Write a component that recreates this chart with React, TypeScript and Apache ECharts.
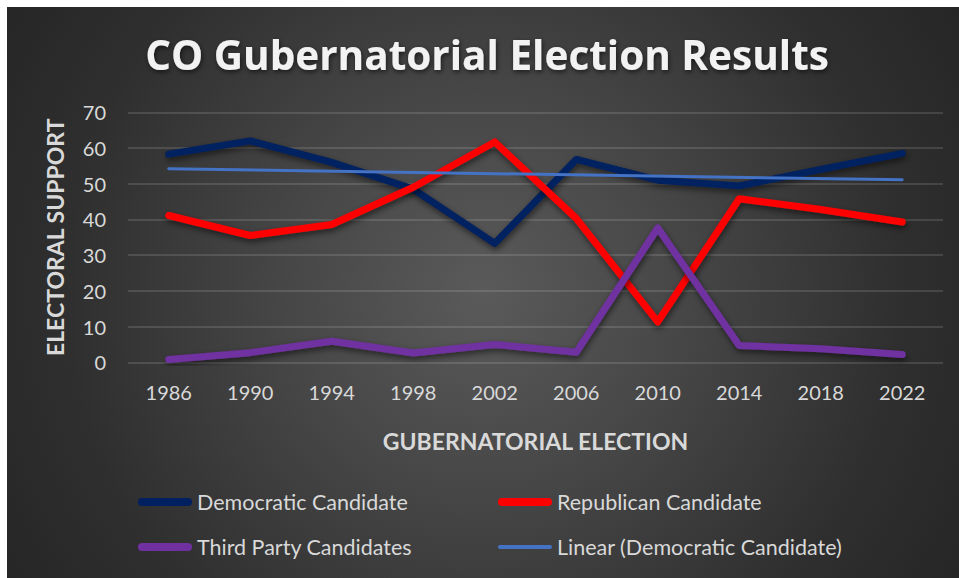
import React, { useEffect, useRef } from "react";
import * as echarts from "echarts";

const years = ["1986", "1990", "1994", "1998", "2002", "2006", "2010", "2014", "2018", "2022"];
const democratic = [58.3, 62.0, 56.0, 48.5, 33.3, 56.8, 51.0, 49.4, 54.0, 58.5];
const republican = [41.1, 35.5, 38.6, 49.0, 61.7, 40.3, 11.3, 45.8, 42.8, 39.3];
const thirdParty = [0.8, 2.7, 5.9, 2.6, 5.0, 2.8, 37.6, 4.7, 3.8, 2.2];
// Linear trend line of the Democratic series: endpoints
const trendStart = 54.2;
const trendEnd = 51.1;
const yTicks = [0, 10, 20, 30, 40, 50, 60, 70];

const FONT = "Lato, 'Open Sans', sans-serif";
const TXT = "#d9d9d9";

export default function App() {
  const ref = useRef<HTMLDivElement>(null);
  useEffect(() => {
    if (!ref.current) return;
    const chart = echarts.init(ref.current, null, { renderer: "svg" });
    const trend = years.map((_, i) => (i === 0 ? trendStart : i === years.length - 1 ? trendEnd : null));
    const shadow = {
      shadowColor: "rgba(0,0,0,0.55)",
      shadowBlur: 6,
      shadowOffsetX: 1,
      shadowOffsetY: 3,
    };
    const legendBase = (name: string, left: number, top: number, h: number) => ({
      data: [name],
      left,
      top,
      itemWidth: 54,
      itemHeight: h,
      itemGap: 0,
      icon: `path://M${h / 2},0 L${54 - h / 2},0 A${h / 2},${h / 2} 0 0 1 ${54 - h / 2},${h} L${h / 2},${h} A${h / 2},${h / 2} 0 0 1 ${h / 2},0 Z`,
      textStyle: { color: TXT, fontSize: 21.5, fontFamily: FONT },
      selectedMode: false,
    });
    chart.setOption({
      animation: false,
      title: {
        text: "CO Gubernatorial Election Results",
        left: 475,
        textAlign: "center",
        top: 22,
        textStyle: {
          color: "#f2f2f2",
          fontSize: 40.5,
          fontWeight: "bold",
          fontFamily: "'Open Sans', Lato, sans-serif",
          textShadowColor: "rgba(0,0,0,0.6)",
          textShadowBlur: 5,
          textShadowOffsetX: 1,
          textShadowOffsetY: 2,
        },
      },
      legend: [
        legendBase("Democratic Candidate", 126, 479, 8),
        legendBase("Republican Candidate", 486, 479, 8),
        legendBase("Third Party Candidates", 126, 524, 8),
        legendBase("Linear (Democratic Candidate)", 486, 524, 4),
      ],
      grid: { left: 121, top: 105.3, width: 815, height: 250 },
      xAxis: {
        type: "category",
        data: years,
        boundaryGap: true,
        axisLine: { show: false },
        axisTick: { show: false },
        axisLabel: { color: TXT, fontSize: 20, fontFamily: FONT, margin: 20 },
        name: "GUBERNATORIAL ELECTION",
        nameLocation: "middle",
        nameGap: 67,
        nameTextStyle: { color: TXT, fontSize: 23, fontWeight: "bold", fontFamily: FONT },
      },
      yAxis: {
        type: "value",
        min: yTicks[0],
        max: yTicks[yTicks.length - 1],
        interval: 10,
        axisLine: { show: false },
        axisTick: { show: false },
        axisLabel: { color: TXT, fontSize: 20, fontFamily: FONT, margin: 22 },
        splitLine: { lineStyle: { color: "rgba(255,255,255,0.17)", width: 1.5 } },
        name: "ELECTORAL SUPPORT",
        nameLocation: "middle",
        nameGap: 62,
        nameTextStyle: { color: TXT, fontSize: 23, fontWeight: "bold", fontFamily: FONT },
      },
      series: [
        {
          name: "Democratic Candidate",
          type: "line",
          data: democratic,
          symbol: "none",
          lineStyle: { color: "#002060", width: 7, cap: "round", join: "round", ...shadow },
          itemStyle: { color: "#002060" },
        },
        {
          name: "Republican Candidate",
          type: "line",
          data: republican,
          symbol: "none",
          lineStyle: { color: "#ff0000", width: 7, cap: "round", join: "round", ...shadow },
          itemStyle: { color: "#ff0000" },
        },
        {
          name: "Third Party Candidates",
          type: "line",
          data: thirdParty,
          symbol: "none",
          lineStyle: { color: "#7030a0", width: 7, cap: "round", join: "round", ...shadow },
          itemStyle: { color: "#7030a0" },
        },
        {
          name: "Linear (Democratic Candidate)",
          type: "line",
          data: trend,
          connectNulls: true,
          symbol: "none",
          lineStyle: { color: "#4472c4", width: 3, cap: "round" },
          itemStyle: { color: "#4472c4" },
          z: 3,
        },
      ],
    });
    return () => chart.dispose();
  }, []);
  return (
    <div
      ref={ref}
      style={{
        position: "absolute",
        left: 7,
        top: 7,
        width: 952,
        height: 571,
        background:
          "radial-gradient(circle farthest-corner at 50% 50%, #5a5a5a 0%, #474747 35%, #2f2f2f 75%, #262626 100%)",
      }}
    />
  );
}
